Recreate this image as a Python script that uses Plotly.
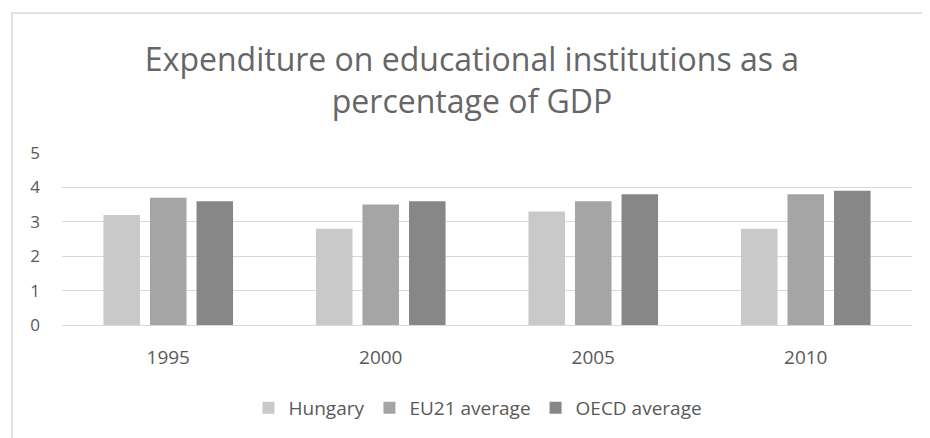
import plotly.graph_objects as go

years = ["1995", "2000", "2005", "2010"]
hungary = [3.2, 2.8, 3.3, 2.8]
eu21 = [3.7, 3.5, 3.6, 3.8]
oecd = [3.6, 3.6, 3.8, 3.9]
series_names = ["Hungary", "EU21 average", "OECD average"]
colors = ["#c9c9c9", "#a5a5a5", "#878787"]
y_ticks = [0, 1, 2, 3, 4, 5]

W, H = 930, 438
# page has an 8px body offset; margins are in figure coordinates
ml, mr, mt, mb = 54, 26, 145, 121
pw = W - ml - mr
ph = H - mt - mb
plot_bottom = H - mb

fig = go.Figure()
for name, vals, col in zip(series_names, [hungary, eu21, oecd], colors):
    fig.add_trace(go.Bar(x=years, y=vals, name=name, marker=dict(color=col, line=dict(width=0))))

# outer chart border
fig.add_shape(type="rect", xref="paper", yref="paper",
              x0=(4 - ml) / pw, x1=(960 - ml) / pw,
              y0=(plot_bottom - 460) / ph, y1=(plot_bottom - 5) / ph,
              line=dict(color="#d9d9d9", width=1.5), fillcolor="rgba(0,0,0,0)", layer="below")

fig.update_layout(
    width=W, height=H,
    margin=dict(l=ml, r=mr, t=mt, b=mb),
    paper_bgcolor="white", plot_bgcolor="white",
    barmode="group", bargap=0.343, bargroupgap=0.215,
    title=dict(text="Expenditure on educational institutions as a<br>percentage of GDP",
               x=(472 - 8) / W, xanchor="center", y=1 - 63 / H, yanchor="top",
               font=dict(family="Open Sans", size=32, color="#666666")),
    font=dict(family="Open Sans", color="#595959"),
    xaxis=dict(showgrid=False, showline=True, linecolor="#d9d9d9", linewidth=1,
               ticks="", tickfont=dict(size=19, color="#595959"), ticklabelstandoff=15),
    yaxis=dict(range=[0, 5], tickvals=y_ticks, showgrid=True, gridcolor="#d9d9d9",
               gridwidth=1, zeroline=False, showline=False, ticks="",
               tickfont=dict(size=17, color="#595959"), ticklabelstandoff=21),
    legend=dict(orientation="h", x=(478 - 8 - ml) / pw, xanchor="center",
                y=(plot_bottom - 400) / ph, yanchor="middle",
                font=dict(size=19, color="#595959"), traceorder="normal",
                itemwidth=30),
)

fig.write_html("out.html")
